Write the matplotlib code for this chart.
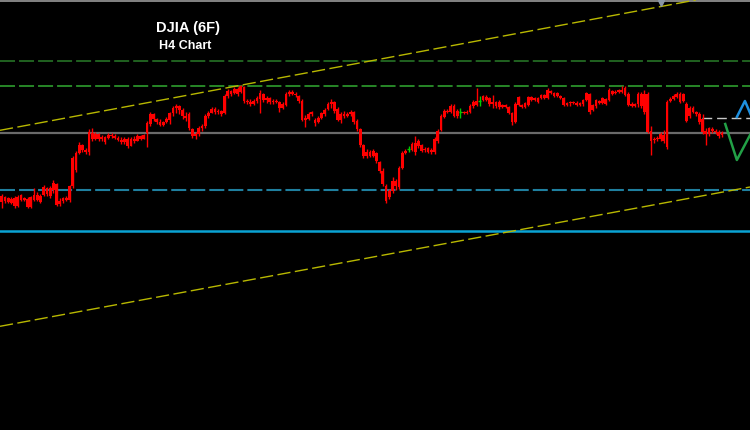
import matplotlib
matplotlib.use('Agg')
import matplotlib.pyplot as plt
import numpy as np

# dash lengths given in points, not scaled by line width
plt.rcParams['lines.scale_dashes'] = False

# H4 candles, DJIA
opens = np.array([
    34804, 34799, 34802, 34797, 34802, 34794, 34800, 34800, 34801, 34793, 34800, 34805, 34804, 34805, 34812, 34804,
    34810, 34816, 34796, 34799, 34802, 34800, 34814, 34830, 34847, 34855, 34850, 34848, 34867, 34861, 34866, 34861,
    34863, 34862, 34865, 34864, 34862, 34860, 34858, 34861, 34854, 34861, 34859, 34864, 34861, 34867, 34876, 34886,
    34881, 34878, 34875, 34878, 34880, 34887, 34892, 34894, 34890, 34884, 34886, 34871, 34864, 34866, 34872, 34874,
    34884, 34887, 34891, 34888, 34889, 34887, 34904, 34909, 34907, 34911, 34908, 34913, 34899, 34898, 34896, 34899,
    34901, 34906, 34900, 34902, 34898, 34899, 34898, 34892, 34895, 34906, 34908, 34906, 34904, 34899, 34882, 34881,
    34886, 34880, 34878, 34882, 34886, 34891, 34896, 34898, 34891, 34880, 34886, 34884, 34886, 34888, 34879, 34871,
    34855, 34844, 34848, 34844, 34847, 34838, 34829, 34814, 34803, 34809, 34819, 34813, 34832, 34847, 34851, 34850,
    34857, 34854, 34855, 34850, 34852, 34848, 34848, 34859, 34870, 34883, 34889, 34888, 34894, 34884, 34888, 34887,
    34888, 34888, 34894, 34895, 34899, 34900, 34903, 34902, 34896, 34898, 34893, 34895, 34893, 34893, 34887, 34878,
    34903, 34895, 34893, 34895, 34903, 34900, 34902, 34902, 34905, 34902, 34909, 34907, 34904, 34904, 34902, 34895,
    34897, 34898, 34897, 34895, 34896, 34900, 34906, 34890, 34894, 34899, 34897, 34901, 34900, 34909, 34907, 34908,
    34910, 34912, 34906, 34896, 34894, 34896, 34906, 34906, 34906, 34869, 34860, 34861, 34861, 34865, 34853, 34899,
    34901, 34903, 34906, 34899, 34896, 34884, 34892, 34888, 34886, 34881, 34869, 34866, 34871, 34869, 34868, 34865,
])
closes = np.array([
    34798, 34803, 34798, 34801, 34794, 34803, 34805, 34802, 34793, 34803, 34805, 34800, 34798, 34813, 34806, 34812,
    34817, 34795, 34799, 34802, 34800, 34814, 34842, 34847, 34855, 34850, 34848, 34868, 34861, 34866, 34861, 34863,
    34858, 34865, 34864, 34862, 34860, 34858, 34861, 34854, 34861, 34859, 34864, 34861, 34865, 34877, 34886, 34881,
    34878, 34875, 34878, 34881, 34887, 34892, 34894, 34890, 34884, 34882, 34872, 34864, 34866, 34872, 34874, 34884,
    34887, 34891, 34888, 34889, 34886, 34904, 34909, 34906, 34911, 34906, 34914, 34899, 34898, 34896, 34899, 34902,
    34907, 34900, 34902, 34898, 34899, 34898, 34892, 34896, 34906, 34908, 34906, 34905, 34899, 34880, 34880, 34886,
    34888, 34877, 34882, 34887, 34890, 34896, 34898, 34889, 34880, 34886, 34884, 34886, 34888, 34878, 34871, 34855,
    34844, 34848, 34844, 34849, 34839, 34829, 34816, 34799, 34809, 34819, 34814, 34832, 34847, 34849, 34851, 34856,
    34848, 34859, 34849, 34851, 34848, 34850, 34861, 34869, 34884, 34889, 34888, 34894, 34884, 34889, 34888, 34888,
    34887, 34894, 34898, 34899, 34899, 34904, 34900, 34896, 34898, 34894, 34898, 34893, 34895, 34887, 34878, 34896,
    34895, 34893, 34897, 34903, 34900, 34902, 34898, 34905, 34902, 34910, 34907, 34904, 34907, 34902, 34895, 34897,
    34898, 34897, 34895, 34897, 34900, 34907, 34888, 34895, 34900, 34897, 34902, 34896, 34910, 34906, 34908, 34910,
    34908, 34905, 34895, 34894, 34896, 34906, 34894, 34888, 34868, 34859, 34861, 34862, 34866, 34859, 34898, 34901,
    34904, 34906, 34898, 34906, 34879, 34892, 34888, 34886, 34878, 34868, 34866, 34872, 34869, 34868, 34864, 34867,
])
highs = np.array([
    34806, 34804, 34803, 34803, 34804, 34805, 34806, 34803, 34803, 34804, 34812, 34808, 34806, 34815, 34813, 34814,
    34820, 34817, 34802, 34803, 34804, 34815, 34844, 34849, 34858, 34856, 34852, 34871, 34872, 34868, 34867, 34865,
    34864, 34867, 34867, 34866, 34864, 34863, 34863, 34863, 34863, 34864, 34866, 34865, 34866, 34879, 34888, 34887,
    34882, 34881, 34879, 34883, 34888, 34894, 34896, 34895, 34892, 34888, 34888, 34872, 34868, 34874, 34876, 34886,
    34889, 34893, 34893, 34891, 34890, 34906, 34911, 34910, 34913, 34913, 34915, 34914, 34901, 34901, 34901, 34904,
    34910, 34907, 34904, 34903, 34901, 34901, 34899, 34898, 34908, 34910, 34910, 34908, 34905, 34901, 34885, 34888,
    34889, 34882, 34884, 34888, 34892, 34898, 34901, 34899, 34893, 34888, 34889, 34888, 34890, 34889, 34881, 34872,
    34856, 34851, 34850, 34851, 34848, 34839, 34832, 34816, 34811, 34823, 34821, 34834, 34849, 34851, 34854, 34858,
    34864, 34861, 34856, 34853, 34853, 34852, 34863, 34871, 34886, 34891, 34891, 34896, 34896, 34891, 34892, 34889,
    34890, 34896, 34900, 34912, 34904, 34905, 34905, 34903, 34905, 34899, 34900, 34896, 34896, 34894, 34888, 34898,
    34904, 34896, 34898, 34904, 34904, 34903, 34903, 34906, 34906, 34912, 34910, 34908, 34908, 34905, 34903, 34898,
    34899, 34899, 34899, 34898, 34901, 34908, 34907, 34896, 34901, 34900, 34903, 34902, 34912, 34910, 34910, 34911,
    34914, 34914, 34908, 34898, 34897, 34908, 34908, 34910, 34908, 34874, 34863, 34864, 34868, 34870, 34900, 34903,
    34906, 34908, 34908, 34907, 34898, 34894, 34894, 34889, 34888, 34886, 34872, 34873, 34873, 34871, 34870, 34869,
])
lows = np.array([
    34792, 34797, 34797, 34796, 34792, 34793, 34799, 34799, 34792, 34792, 34799, 34799, 34797, 34804, 34804, 34802,
    34807, 34794, 34794, 34797, 34799, 34798, 34812, 34828, 34846, 34848, 34846, 34845, 34859, 34860, 34859, 34859,
    34856, 34861, 34862, 34861, 34859, 34856, 34856, 34852, 34854, 34857, 34859, 34860, 34861, 34853, 34874, 34879,
    34876, 34874, 34874, 34877, 34876, 34884, 34887, 34886, 34881, 34879, 34870, 34862, 34861, 34864, 34869, 34872,
    34882, 34887, 34886, 34886, 34884, 34886, 34902, 34904, 34906, 34904, 34907, 34897, 34896, 34894, 34895, 34897,
    34887, 34898, 34897, 34896, 34896, 34897, 34888, 34891, 34894, 34904, 34905, 34903, 34897, 34879, 34873, 34880,
    34884, 34874, 34877, 34881, 34884, 34890, 34892, 34887, 34879, 34877, 34882, 34883, 34884, 34876, 34869, 34853,
    34842, 34842, 34843, 34843, 34837, 34827, 34814, 34797, 34801, 34807, 34810, 34811, 34831, 34846, 34848, 34849,
    34845, 34852, 34848, 34848, 34847, 34846, 34846, 34857, 34869, 34882, 34887, 34887, 34883, 34882, 34882, 34886,
    34886, 34887, 34892, 34894, 34894, 34899, 34899, 34894, 34892, 34892, 34891, 34892, 34892, 34886, 34875, 34877,
    34894, 34892, 34892, 34894, 34899, 34899, 34897, 34901, 34901, 34901, 34906, 34903, 34903, 34901, 34894, 34894,
    34894, 34896, 34894, 34894, 34894, 34899, 34886, 34889, 34892, 34896, 34896, 34895, 34899, 34905, 34906, 34907,
    34907, 34904, 34894, 34893, 34893, 34893, 34892, 34886, 34867, 34845, 34857, 34859, 34859, 34857, 34851, 34898,
    34900, 34902, 34897, 34898, 34878, 34882, 34887, 34884, 34876, 34866, 34855, 34864, 34867, 34866, 34862, 34863,
])

# horizontal levels
frame_top = 34998.7
resistance_2 = 34939
resistance_1 = 34914
pivot = 34867.3
support_1 = 34810.3
support_2 = 34769.3
last_close_level = 34882

# channel lines, two anchor points each (candle index, price)
channel_x = [0, 200]
channel_upper = [34870, 34991]
channel_lower = [34674, 34794]

# projected paths on the right edge
proj_x_up = [227.6, 230.1, 233.0]
proj_up = [34883, 34899, 34877]
proj_x_down = [224.0, 227.6, 233.0]
proj_down = [34876, 34840, 34873]

# small marker on the top of the channel
marker_x, marker_y = 204.1, 34997

idx = np.arange(len(opens))
doji = opens == closes
colors = np.where(doji, '#00cc00', '#ff0000')

fig = plt.figure(figsize=(7.5, 4.3), dpi=100, facecolor='black')
ax = fig.add_axes([0, 0, 1, 1])
ax.set_axis_off()
ax.set_xlim(-0.53, 231.67)
ax.set_ylim(34570, 35000)

dash = (10.8, 2.9)

ax.axhline(frame_top, color='#9a9a9a', lw=1.2, zorder=1)
ax.axhline(resistance_2, color='#267326', lw=1.2, dashes=dash, zorder=1)
ax.axhline(resistance_1, color='#2e9e2e', lw=1.2, dashes=dash, zorder=1)
ax.axhline(pivot, color='#6a6a6a', lw=1.6, zorder=1)
ax.axhline(support_1, color='#1f7f9f', lw=1.5, dashes=dash, zorder=1)
ax.axhline(support_2, color='#0aa3d4', lw=1.8, zorder=1)

ax.axline((channel_x[0], channel_upper[0]), (channel_x[1], channel_upper[1]),
          color='#b8b800', lw=1.0, dashes=(9.5, 3.2), zorder=1)
ax.axline((channel_x[0], channel_lower[0]), (channel_x[1], channel_lower[1]),
          color='#b8b800', lw=1.0, dashes=(9.5, 3.2), zorder=1)

ax.plot([216.8, 240], [last_close_level, last_close_level], color='#c8c8c8', lw=1.0,
        dashes=(7, 3.5), zorder=2)
ax.plot(proj_x_up, proj_up, color='#1e90e0', lw=1.8, zorder=2)
ax.plot(proj_x_down, proj_down, color='#22a046', lw=1.8, zorder=2)
ax.plot(marker_x, marker_y, marker='v', ms=5, color='#8b97a6', zorder=2)

# candles
ax.vlines(idx, lows, highs, colors=colors, lw=1.0, zorder=3)
body_lo = np.minimum(opens, closes)
body_h = np.maximum(np.abs(closes - opens), 1.0)
ax.bar(idx[~doji], body_h[~doji], bottom=body_lo[~doji], width=0.85,
       color=colors[~doji], linewidth=0, zorder=4)
ax.hlines(closes[doji], idx[doji] - 0.5, idx[doji] + 0.5, colors='#00cc00', lw=1.0, zorder=4)

ax.text(0.25, 0.936, 'DJIA (6F)', transform=ax.transAxes, ha='center', va='center',
        color='white', fontsize=10.5, fontweight='bold', family='Liberation Sans')
ax.text(0.247, 0.894, 'H4 Chart', transform=ax.transAxes, ha='center', va='center',
        color='white', fontsize=9, fontweight='bold', family='Liberation Sans')

fig.savefig('out.png', dpi=100, facecolor='black')
